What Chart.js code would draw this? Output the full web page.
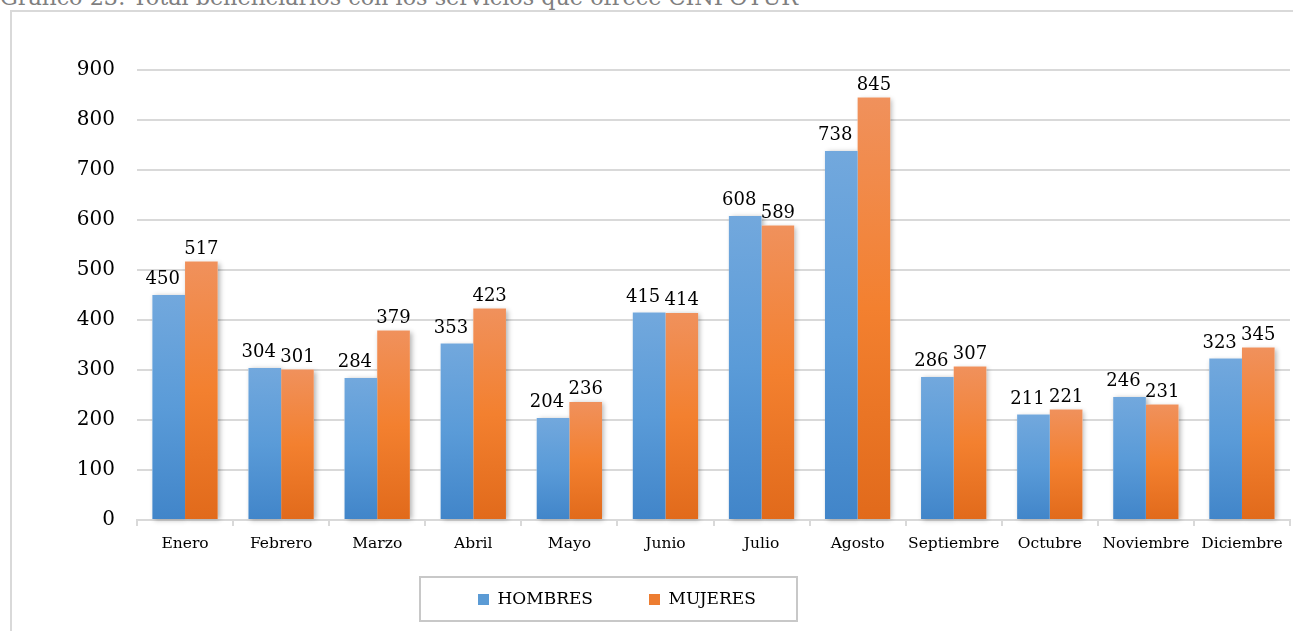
<!DOCTYPE html>
<html>
<head>
<meta charset="utf-8">
<script src="https://cdn.jsdelivr.net/npm/chart.js@4/dist/chart.umd.min.js"></script>
<style>
    body { margin: 0; background: #fff; width: 1293px; height: 631px; overflow: hidden; position: relative; }
    #title { position: absolute; left: 0; top: -14px; font-family: 'DejaVu Serif', serif; font-size: 22.3px; line-height: 22px; color: #7f7f7f; white-space: nowrap; }
    #frame { position: absolute; left: 10px; top: 10px; width: 1300px; height: 700px; border-left: 2px solid #d9d9d9; border-top: 2px solid #d9d9d9; }
    #wrap { position: absolute; left: 0; top: 0; width: 1293px; height: 631px; }
</style>
</head>
<body>
<div id="title">Gráfico 23: Total beneficiarios con los servicios que ofrece CINFOTUR</div>
<div id="frame"></div>
<div id="wrap"><canvas id="myChart" width="1293" height="631"></canvas></div>
<script>
const months = ['Enero', 'Febrero', 'Marzo', 'Abril', 'Mayo', 'Junio', 'Julio', 'Agosto', 'Septiembre', 'Octubre', 'Noviembre', 'Diciembre'];
const hombres = [450, 304, 284, 353, 204, 415, 608, 738, 286, 211, 246, 323];
const mujeres = [517, 301, 379, 423, 236, 414, 589, 845, 307, 221, 231, 345];
const yTicks = [0, 100, 200, 300, 400, 500, 600, 700, 800, 900];

const serif = "'DejaVu Serif', serif";

// vertical gradient per bar, lighter at the top
function barGradient(top, mid, bottom) {
    return function (context) {
        const chart = context.chart;
        if (!chart.chartArea || context.parsed == null) return mid;
        const y = chart.scales.y;
        const y0 = y.getPixelForValue(context.parsed.y);
        const y1 = y.getPixelForValue(0);
        const g = chart.ctx.createLinearGradient(0, y0, 0, y1);
        g.addColorStop(0, top);
        g.addColorStop(0.5, mid);
        g.addColorStop(1, bottom);
        return g;
    };
}

// soft shadow behind every bar, painted before the bars themselves
const shadowPlugin = {
    id: 'shadow',
    beforeDatasetsDraw(chart) {
        const ctx = chart.ctx;
        ctx.save();
        ctx.shadowColor = 'rgba(0,0,0,0.30)';
        ctx.shadowBlur = 5;
        ctx.shadowOffsetX = 2;
        ctx.shadowOffsetY = 1;
        ctx.fillStyle = '#fff';
        chart.data.datasets.forEach((ds, i) => {
            chart.getDatasetMeta(i).data.forEach(bar => {
                const p = bar.getProps(['x', 'y', 'base', 'width'], true);
                ctx.fillRect(p.x - p.width / 2, p.y, p.width, p.base - p.y);
            });
        });
        ctx.restore();
    }
};

const labelPlugin = {
    id: 'valueLabels',
    afterDatasetsDraw(chart) {
        const ctx = chart.ctx;
        ctx.save();
        ctx.font = '18px ' + serif;
        ctx.fillStyle = '#000';
        ctx.textAlign = 'center';
        ctx.textBaseline = 'alphabetic';
        const dx = [-6, 0];
        const gap = [11, 8];
        chart.data.datasets.forEach((ds, i) => {
            chart.getDatasetMeta(i).data.forEach((bar, j) => {
                ctx.fillText(ds.data[j], bar.x + dx[i], bar.y - gap[i]);
            });
        });
        ctx.restore();
    }
};

// place legend like the original and draw the frame round it
const legendBox = {
    id: 'legendBox',
    afterLayout(chart) {
        const lg = chart.legend;
        const pad = lg.options.labels.padding;
        const startX = (lg.left + pad + lg.right - lg.lineWidths[0]) / 2;
        const shift = 478 - startX;
        lg.left += shift;
        lg.right += shift;
        lg.top = 591 - pad;
        lg.bottom = 631;
    },
    afterDraw(chart) {
        const hb = chart.legend.legendHitBoxes[0];
        const ctx = chart.ctx;
        ctx.save();
        ctx.strokeStyle = '#c8c8c8';
        ctx.lineWidth = 2;
        ctx.strokeRect(hb.left - 58, 577, 377, 44);
        ctx.restore();
    }
};

const ctx = document.getElementById('myChart').getContext('2d');
const myChart = new Chart(ctx, {
    type: 'bar',
    data: {
        labels: months,
        datasets: [{
                label: 'HOMBRES',
                data: hombres,
                backgroundColor: barGradient('#72a8dd', '#5a9bd8', '#4185c9'),
                borderWidth: 0
            },
            {
                label: 'MUJERES',
                data: mujeres,
                backgroundColor: barGradient('#f0915c', '#f3802f', '#e16a1b'),
                borderWidth: 0
            }
        ]
    },
    options: {
        responsive: false,
        animation: false,
        devicePixelRatio: 1,
        layout: { padding: { left: 0, right: 3, top: 70, bottom: 20 } },
        datasets: { bar: { barPercentage: 1, categoryPercentage: 0.68 } },
        scales: {
            x: {
                grid: { drawOnChartArea: false, drawTicks: true, tickLength: 6, color: '#d9d9d9', lineWidth: 2 },
                border: { color: '#d9d9d9', width: 2 },
                ticks: { color: '#000', font: { family: serif, size: 15.5 }, padding: 9, maxRotation: 0, autoSkip: false },
                afterFit(scale) { scale.height = 50; }
            },
            y: {
                min: 0,
                max: 900,
                afterBuildTicks(scale) { scale.ticks = yTicks.map(v => ({ value: v })); },
                grid: { color: '#d9d9d9', lineWidth: 2, drawTicks: false },
                border: { display: false },
                ticks: { color: '#000', font: { family: serif, size: 20 }, padding: 22 },
                afterFit(scale) { scale.width = 137; }
            }
        },
        plugins: {
            legend: {
                position: 'bottom',
                maxHeight: 41,
                labels: {
                    font: { family: serif, size: 17 },
                    color: '#000',
                    boxWidth: 11,
                    boxHeight: 11,
                    padding: 56,
                    generateLabels(chart) {
                        const solid = ['#5b9bd5', '#ed7d31'];
                        return chart.data.datasets.map((ds, i) => ({
                            text: ds.label,
                            fillStyle: solid[i],
                            strokeStyle: solid[i],
                            lineWidth: 0,
                            datasetIndex: i
                        }));
                    }
                }
            },
            tooltip: { enabled: false }
        }
    },
    plugins: [shadowPlugin, labelPlugin, legendBox]
});
</script>
</body>
</html>
